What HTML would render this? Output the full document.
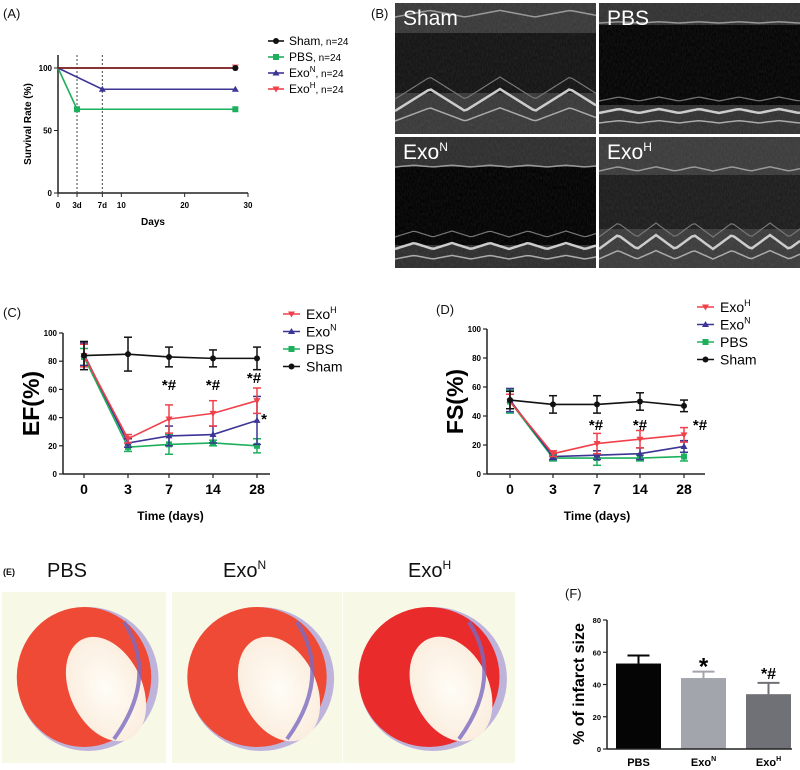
<!DOCTYPE html>
<html><head><meta charset="utf-8">
<style>
html,body{margin:0;padding:0;background:#fff;}
#root{position:relative;width:800px;height:770px;overflow:hidden;font-family:"Liberation Sans",Arial,sans-serif;}
svg text{font-family:"Liberation Sans",Arial,sans-serif;}
</style></head>
<body>
<div id="root">
<svg id="fig" width="800" height="770" viewBox="0 0 800 770" xmlns="http://www.w3.org/2000/svg">
<defs>
<filter id="noise" x="0" y="0" width="100%" height="100%" filterUnits="objectBoundingBox">
<feTurbulence type="fractalNoise" baseFrequency="0.8 0.3" numOctaves="2" seed="3" result="n"/>
<feColorMatrix type="matrix" values="0 0 0 0 1  0 0 0 0 1  0 0 0 0 1  0 0 0 0.6 -0.15"/>
</filter>
<radialGradient id="cav" cx="50%" cy="50%" r="50%"><stop offset="0" stop-color="#fffdf6"/><stop offset="1" stop-color="#fbeee0"/></radialGradient>
</defs>
<g font-size="13" fill="#111">
<text x="3" y="18">(A)</text>
<text x="371" y="18">(B)</text>
<text x="3" y="317">(C)</text>
<text x="436" y="314">(D)</text>
<text x="3" y="575" font-size="9" font-weight="bold">(E)</text>
<text x="565" y="598" font-size="13">(F)</text>
</g>
<g id="panelA"></g>
<g id="panelB"></g>
<g id="panelC"></g>
<g id="panelD"></g>
<g id="panelE"></g>
<g id="panelF"></g>
</svg>
</div>
<script>
// ---- data ----
const survDays = [0, 3, 7, 28];
const survSham = [100, 100, 100, 100];
const survPBS = [100, 67, 67, 67];
const survExoN = [100, 100, 83, 83];
const survExoH = [100, 100, 100, 100];
const survXTicks = [0, 3, 7, 10, 20, 30];
const survXTickLabels = ["0", "3d", "7d", "10", "20", "30"];
const survYTicks = [0, 50, 100];

const timeCats = ["0", "3", "7", "14", "28"];
const efSham = [84, 85, 83, 82, 82];
const efShamErr = [10, 12, 7, 6, 8];
const efExoH = [84, 25, 39, 43, 52];
const efExoHErr = [8, 3, 10, 9, 9];
const efExoN = [85, 22, 27, 28, 38];
const efExoNErr = [8, 3, 7, 6, 17];
const efPBS = [83, 19, 21, 22, 20];
const efPBSErr = [6, 3, 7, 2, 5];

const fsSham = [51, 48, 48, 50, 47];
const fsShamErr = [6, 6, 6, 6, 4];
const fsExoH = [50, 14, 21, 24, 27];
const fsExoHErr = [5, 2, 7, 6, 5];
const fsExoN = [51, 12, 13, 14, 19];
const fsExoNErr = [8, 2, 3, 4, 4];
const fsPBS = [50, 11, 11, 11, 12];
const fsPBSErr = [8, 2, 5, 2, 3];
const lineYTicks = [0, 20, 40, 60, 80, 100];

const barCats = ["PBS", "Exo", "Exo"];
const barSups = ["", "N", "H"];
const barValues = [53, 44, 34];
const barErr = [5, 4, 7];
const barYTicks = [0, 20, 40, 60, 80];

const NS = "http://www.w3.org/2000/svg";
function mk(tag, attrs, parent, txt) {
  const e = document.createElementNS(NS, tag);
  for (const k in attrs) e.setAttribute(k, attrs[k]);
  if (txt !== undefined) e.textContent = txt;
  parent.appendChild(e);
  return e;
}
const RED = "#f0414b", BLUE = "#3b3594", GREEN = "#1db05c", BLK = "#111";

function marker(g, type, x, y, color) {
  let m;
  if (type === "circle") m = mk("circle", {cx: x, cy: y, r: 3, fill: color}, g);
  else if (type === "square") m = mk("rect", {x: x - 3, y: y - 3, width: 6, height: 6, fill: color}, g);
  else if (type === "tri") m = mk("polygon", {points: `${x},${y-3.5} ${x-3.5},${y+2.5} ${x+3.5},${y+2.5}`, fill: color}, g);
  else m = mk("polygon", {points: `${x},${y+3.5} ${x-3.5},${y-2.5} ${x+3.5},${y-2.5}`, fill: color}, g);
  
  
}

// ---- Panel A ----
(function () {
  const g = document.getElementById("panelA");
  const x = d => 58 + d * (190 / 30);
  const y = v => 193 - v * 1.25;
  mk("line", {x1: 58, y1: 55, x2: 58, y2: 193, stroke: "#222", "stroke-width": 1.5}, g);
  mk("line", {x1: 58, y1: 193, x2: 248, y2: 193, stroke: "#222", "stroke-width": 1.5}, g);
  [3, 7].forEach(d => { const l = mk("line", {x1: x(d), y1: 55, x2: x(d), y2: 193, stroke: "#444", "stroke-width": 1, "stroke-dasharray": "2,2"}, g);   });
  survXTicks.forEach((t, i) => {
    mk("line", {x1: x(t), y1: 193, x2: x(t), y2: 197, stroke: "#222", "stroke-width": 1}, g);
    const tx = mk("text", {x: x(t), y: 208, "font-size": 8, "font-weight": "bold", "text-anchor": "middle"}, g, survXTickLabels[i]);
     
  });
  survYTicks.forEach(t => {
    mk("line", {x1: 54, y1: y(t), x2: 58, y2: y(t), stroke: "#222", "stroke-width": 1}, g);
    const tx = mk("text", {x: 52, y: y(t) + 3, "font-size": 8, "font-weight": "bold", "text-anchor": "end"}, g, String(t));
     
  });
  const xt = mk("text", {x: 153, y: 225, "font-size": 10, "font-weight": "bold", "text-anchor": "middle"}, g, "Days");
   
  const yt = mk("text", {x: 0, y: 0, "font-size": 10, "font-weight": "bold", "text-anchor": "middle", transform: "translate(31,124) rotate(-90)"}, g, "Survival Rate (%)");
   
  const series = [
    {v: survPBS, c: GREEN, m: "square", mi: [1, 3]},
    {v: survExoN, c: BLUE, m: "tri", mi: [2, 3]},
    {v: survSham, c: BLK, m: "circle", mi: [3]},
    {v: survExoH, c: "#8a1a1a", m: "inv", mi: []}
  ];
  series.forEach(s => {
    let pts = [];
    s.v.forEach((v, i) => { if (i === 1 && s.v[1] === s.v[0] && s.v[2] !== s.v[1]) return; pts.push(x(survDays[i]) + "," + y(v)); });
    const p = mk("polyline", {points: pts.join(" "), fill: "none", stroke: s.c, "stroke-width": 1.6}, g);
     
    s.mi.forEach(i => marker(g, s.m, x(survDays[i]), y(s.v[i]), s.c));
  });
  marker(g, "inv", x(28), y(survExoH[3]) - 1, "#f06060");
  marker(g, "circle", x(28), y(survSham[3]), BLK);
  const leg = [["Sham", ", n=24", "", BLK, "circle"], ["PBS", ",  n=24", "", GREEN, "square"], ["Exo", ", n=24", "N", BLUE, "tri"], ["Exo", ", n=24", "H", RED, "inv"]];
  leg.forEach((l, i) => {
    const ly = 41 + i * 16;
    const lg = mk("g", {}, g);
     
    mk("line", {x1: 268, y1: ly, x2: 284, y2: ly, stroke: l[3], "stroke-width": 1.6}, lg);
    marker(lg, l[4], 276, ly, l[3]);
    const t = mk("text", {x: 289, y: ly + 4, "font-size": 12}, lg);
    t.appendChild(document.createTextNode(l[0]));
    if (l[2]) { mk("tspan", {dy: -5, "font-size": 8}, t, l[2]); mk("tspan", {dy: 5, "font-size": 10}, t, l[1]); }
    else mk("tspan", {"font-size": 10}, t, l[1]);
  });
})();

// ---- Panel B (echo images) ----
(function () {
  const g = document.getElementById("panelB");
  const panels = [
    {x: 395, y: 3, w: 201, h: 131, label: "Sham", sup: "", dark: [30, 90], amp: 22, per: 70, top: 14, bot: 108, bg: "#151515", base: "#3a3a3a"},
    {x: 599, y: 3, w: 201, h: 131, label: "PBS", sup: "", dark: [22, 102], amp: 4, per: 40, top: 20, bot: 110, bg: "#050505", base: "#333"},
    {x: 395, y: 137, w: 201, h: 131, label: "Exo", sup: "N", dark: [30, 108], amp: 6, per: 38, top: 30, bot: 112, bg: "#030303", base: "#2f2f2f"},
    {x: 599, y: 137, w: 201, h: 131, label: "Exo", sup: "H", dark: [38, 92], amp: 14, per: 38, top: 34, bot: 112, bg: "#1e1e1e", base: "#3c3c3c"}
  ];
  panels.forEach(p => {
    const pg = mk("g", {}, g);
     
    mk("rect", {x: p.x, y: p.y, width: p.w, height: p.h, fill: p.base}, pg);
    mk("rect", {x: p.x, y: p.y + p.dark[0], width: p.w, height: p.dark[1] - p.dark[0], fill: p.bg}, pg);
    mk("rect", {x: p.x, y: p.y, width: p.w, height: p.h, fill: "#fff", filter: "url(#noise)", opacity: 0.18}, pg);
    const wave = (base, amp, w, col) => {
      let d = "";
      for (let i = 0; i <= p.w; i += 3) {
        const ph = (i % p.per) / p.per;
        const tri = ph < 0.5 ? ph * 2 : 2 - ph * 2;
        d += (i === 0 ? "M" : "L") + (p.x + i) + "," + (p.y + base - amp * tri);
      }
      mk("path", {d: d, fill: "none", stroke: col, "stroke-width": w}, pg);
    };
    wave(p.top, p.amp * 0.3, 1.5, "#999");
    wave(p.bot - 12, p.amp, 1.2, "#777");
    wave(p.bot, p.amp, 2.5, "#ccc");
    wave(p.bot + 10, p.amp * 0.6, 1.5, "#aaa");
    const t = mk("text", {x: p.x + 8, y: p.y + 22, "font-size": 21, fill: "#fff"}, pg);
    t.appendChild(document.createTextNode(p.label));
    if (p.sup) mk("tspan", {dy: -8, "font-size": 12}, t, p.sup);
  });
})();

// ---- line charts ----
function lineChart(gid, o) {
  const g = document.getElementById(gid);
  const y = v => o.y0 - v * (o.y0 - o.y100) / 100;
  const x = i => o.cx[i];
  mk("line", {x1: o.ax, y1: o.y100, x2: o.ax, y2: o.y0, stroke: "#222", "stroke-width": 1.5}, g);
  mk("line", {x1: o.ax, y1: o.y0, x2: o.axEnd, y2: o.y0, stroke: "#222", "stroke-width": 1.5}, g);
  lineYTicks.forEach(t => {
    mk("line", {x1: o.ax - 4, y1: y(t), x2: o.ax, y2: y(t), stroke: "#222", "stroke-width": 1.2}, g);
    const tx = mk("text", {x: o.ax - 6, y: y(t) + 3, "font-size": 8, "font-weight": "bold", "text-anchor": "end"}, g, String(t));
     
  });
  timeCats.forEach((c, i) => {
    mk("line", {x1: x(i), y1: o.y0, x2: x(i), y2: o.y0 + 4, stroke: "#222", "stroke-width": 1.2}, g);
    const tx = mk("text", {x: x(i), y: o.y0 + 20, "font-size": 14, "font-weight": "bold", "text-anchor": "middle"}, g, c);
     
  });
  const xt = mk("text", {x: (o.cx[0] + o.cx[4]) / 2, y: o.y0 + 46, "font-size": 12, "font-weight": "bold", "text-anchor": "middle"}, g, "Time (days)");
   
  const yt = mk("text", {x: 0, y: 0, "font-size": 23, "font-weight": "bold", "text-anchor": "middle", transform: `translate(${o.ax - 24},${(o.y0 + o.y100) / 2}) rotate(-90)`}, g, o.ylabel);
   
  o.series.forEach(s => {
    const sg = mk("g", {}, g);
     
    s.v.forEach((v, i) => {
      const e = s.e[i];
      mk("line", {x1: x(i), y1: y(v - e), x2: x(i), y2: y(v + e), stroke: s.c, "stroke-width": 1.5}, sg);
      mk("line", {x1: x(i) - 4, y1: y(v - e), x2: x(i) + 4, y2: y(v - e), stroke: s.c, "stroke-width": 1.5}, sg);
      mk("line", {x1: x(i) - 4, y1: y(v + e), x2: x(i) + 4, y2: y(v + e), stroke: s.c, "stroke-width": 1.5}, sg);
    });
    mk("polyline", {points: s.v.map((v, i) => x(i) + "," + y(v)).join(" "), fill: "none", stroke: s.c, "stroke-width": 1.6}, sg);
    s.v.forEach((v, i) => marker(sg, s.m, x(i), y(v), s.c));
  });
  o.legend.forEach((l, i) => {
    const ly = o.legY + i * 17.5;
    const lg = mk("g", {}, g);
     
    mk("line", {x1: o.legX, y1: ly, x2: o.legX + 17, y2: ly, stroke: l.c, "stroke-width": 1.6}, lg);
    marker(lg, l.m, o.legX + 8.5, ly, l.c);
    const t = mk("text", {x: o.legX + 23, y: ly + 5, "font-size": 14}, lg);
    t.appendChild(document.createTextNode(l.t));
    if (l.s) mk("tspan", {dy: -6, "font-size": 9}, t, l.s);
  });
  o.ann.forEach(a => {
    const t = mk("text", {x: a[0], y: a[1], "font-size": 15, "font-weight": "bold", "text-anchor": "middle"}, g, a[2]);
     
  });
}
const legendItems = [
  {t: "Exo", s: "H", c: RED, m: "inv"}, {t: "Exo", s: "N", c: BLUE, m: "tri"},
  {t: "PBS", s: "", c: GREEN, m: "square"}, {t: "Sham", s: "", c: BLK, m: "circle"}];
lineChart("panelC", {
  ax: 63, axEnd: 270, y100: 333, y0: 474, cx: [84, 128, 169, 213, 257], ylabel: "EF(%)",
  series: [
    {name: "pbs", v: efPBS, e: efPBSErr, c: GREEN, m: "square"},
    {name: "exo-n", v: efExoN, e: efExoNErr, c: BLUE, m: "tri"},
    {name: "exo-h", v: efExoH, e: efExoHErr, c: RED, m: "inv"},
    {name: "sham", v: efSham, e: efShamErr, c: BLK, m: "circle"}],
  legend: legendItems, legX: 283, legY: 314,
  ann: [[169, 390, "*#"], [213, 390, "*#"], [254, 383, "*#"], [264, 424, "*"]]
});
lineChart("panelD", {
  ax: 487, axEnd: 705, y100: 329, y0: 474, cx: [510, 553, 597, 640, 684], ylabel: "FS(%)",
  series: [
    {name: "pbs", v: fsPBS, e: fsPBSErr, c: GREEN, m: "square"},
    {name: "exo-n", v: fsExoN, e: fsExoNErr, c: BLUE, m: "tri"},
    {name: "exo-h", v: fsExoH, e: fsExoHErr, c: RED, m: "inv"},
    {name: "sham", v: fsSham, e: fsShamErr, c: BLK, m: "circle"}],
  legend: legendItems, legX: 697, legY: 307,
  ann: [[596, 430, "*#"], [640, 430, "*#"], [700, 430, "*#"]]
});

// ---- Panel E (heart sections) ----
(function () {
  const g = document.getElementById("panelE");
  const labels = [["PBS", "", 47], ["Exo", "N", 223], ["Exo", "H", 408]];
  labels.forEach(l => {
    const t = mk("text", {x: l[2], y: 577, "font-size": 20, fill: "#111"}, g);
     
    t.appendChild(document.createTextNode(l[0]));
    if (l[1]) mk("tspan", {dy: -8, "font-size": 12}, t, l[1]);
  });
  const hearts = [
    {x: 2, w: 164, red: "#ef4a35"},
    {x: 172, w: 170, red: "#ee4a35"},
    {x: 343, w: 172, red: "#e92b2b"}
  ];
  hearts.forEach(h => {
    const hg = mk("g", {}, g);
     
    mk("rect", {x: h.x, y: 592, width: h.w, height: 171, fill: "#f7f8e6"}, hg);
    const cx = h.x + h.w / 2, cy = 677;
    mk("ellipse", {cx: cx + 4, cy: cy + 2, rx: h.w * 0.43, ry: 72, fill: "#a597d6", opacity: 0.7}, hg);
    mk("ellipse", {cx: cx, cy: cy, rx: h.w * 0.41, ry: 70, fill: h.red}, hg);
    mk("ellipse", {cx: cx + 22, cy: cy + 12, rx: h.w * 0.22, ry: 55, fill: "url(#cav)", transform: `rotate(-25 ${cx + 22} ${cy + 12})`}, hg);
    mk("path", {d: `M${cx + 40},${cy - 55} Q${cx + 75},${cy} ${cx + 30},${cy + 62}`, fill: "none", stroke: "#7a6ac0", "stroke-width": 4, opacity: 0.8}, hg);
  });
})();

// ---- Panel F (bars) ----
(function () {
  const g = document.getElementById("panelF");
  const y0 = 749, y80 = 620;
  const y = v => y0 - v * (y0 - y80) / 80;
  const cx = i => 638.5 + i * 65;
  const bw = 45;
  const colors = ["#050505", "#a2a5ab", "#6f7176"];
  barValues.forEach((v, i) => {
    const e = barErr[i];
    mk("line", {x1: cx(i), y1: y(v), x2: cx(i), y2: y(v + e), stroke: colors[i], "stroke-width": 2}, g);
    mk("line", {x1: cx(i) - 11, y1: y(v + e), x2: cx(i) + 11, y2: y(v + e), stroke: colors[i], "stroke-width": 2}, g);
    const r = mk("rect", {x: cx(i) - bw / 2, y: y(v), width: bw, height: y0 - y(v), fill: colors[i]}, g);
     
    const t = mk("text", {x: cx(i), y: 766, "font-size": 11, "font-weight": "bold", "text-anchor": "middle"}, g);
     
    t.appendChild(document.createTextNode(barCats[i]));
    if (barSups[i]) mk("tspan", {dy: -5, "font-size": 7}, t, barSups[i]);
  });
  mk("line", {x1: 607, y1: y80, x2: 607, y2: y0, stroke: "#222", "stroke-width": 1.5}, g);
  mk("line", {x1: 607, y1: y0, x2: 792, y2: y0, stroke: "#222", "stroke-width": 1.5}, g);
  barYTicks.forEach(t => {
    mk("line", {x1: 603, y1: y(t), x2: 607, y2: y(t), stroke: "#222", "stroke-width": 1.2}, g);
    const tx = mk("text", {x: 601, y: y(t) + 3, "font-size": 7.5, "font-weight": "bold", "text-anchor": "end"}, g, String(t));
     
  });
  const yt = mk("text", {x: 0, y: 0, "font-size": 16, "font-weight": "bold", "text-anchor": "middle", transform: "translate(584,684) rotate(-90)"}, g, "% of infarct size");
   
  const a1 = mk("text", {x: cx(1), y: y(barValues[1] + barErr[1]) + 3, "font-size": 24, "font-weight": "bold", "text-anchor": "middle"}, g, "*");
   
  const a2 = mk("text", {x: cx(2), y: y(barValues[2] + barErr[2]) - 4, "font-size": 16, "font-weight": "bold", "text-anchor": "middle"}, g, "*#");
   
})();
</script>
</body></html>
